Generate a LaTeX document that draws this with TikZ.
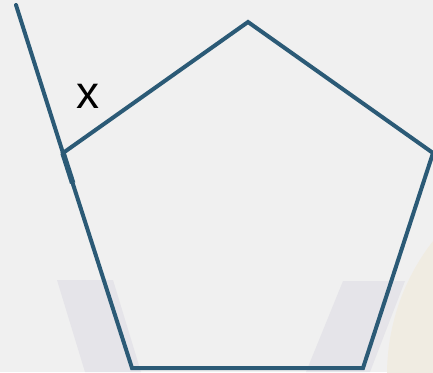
\documentclass[tikz,border=0pt]{standalone}
\usepackage{fontspec}
\setmainfont{Liberation Sans}
\usetikzlibrary{calc}
\definecolor{edgeblue}{HTML}{2B5A76}
\definecolor{paper}{HTML}{F0F0F0}
\definecolor{markgray}{HTML}{E5E4E9}
\definecolor{markbeige}{HTML}{F0ECE2}
\begin{document}
\begin{tikzpicture}[x=1pt,y=-1pt]

  % Background
  \fill[paper] (0,0) rectangle (433,372);
  \useasboundingbox (0,0) rectangle (433,372);

  % Faint watermark behind the figure
  \begin{scope}
    \clip (0,0) rectangle (433,372);
    \fill[markbeige] (605,375) circle (218);
    \fill[markgray] (57,280) -- (113,280) -- (141,372) -- (85,372) -- cycle;
    \fill[markgray] (343,281) -- (405,281) -- (370,372) -- (306,372) -- cycle;
  \end{scope}

  % Vertices of the pentagon
  \coordinate (T) at (248,22);
  \coordinate (R) at (433,153);
  \coordinate (BR) at (363,368);
  \coordinate (BL) at (132,368);
  \coordinate (L) at (63,153);

  % Far end of the extended side
  \coordinate (E) at (16,5);

  % Pentagon
  \draw[edgeblue, line width=4pt, line join=miter] (L) -- (T) -- (R) -- (BR) -- (BL) -- cycle;

  % Side BL-L extended past L
  \draw[edgeblue, line width=4pt, line cap=round] (L) -- (E);
  \draw[edgeblue, line width=5.5pt] (L) -- ($(L)!0.14!(BL)$);

  % Exterior angle
  \node[font=\fontsize{46}{46}\selectfont, inner sep=0pt] (x) at (88,96) {x};
\end{tikzpicture}
\end{document}
